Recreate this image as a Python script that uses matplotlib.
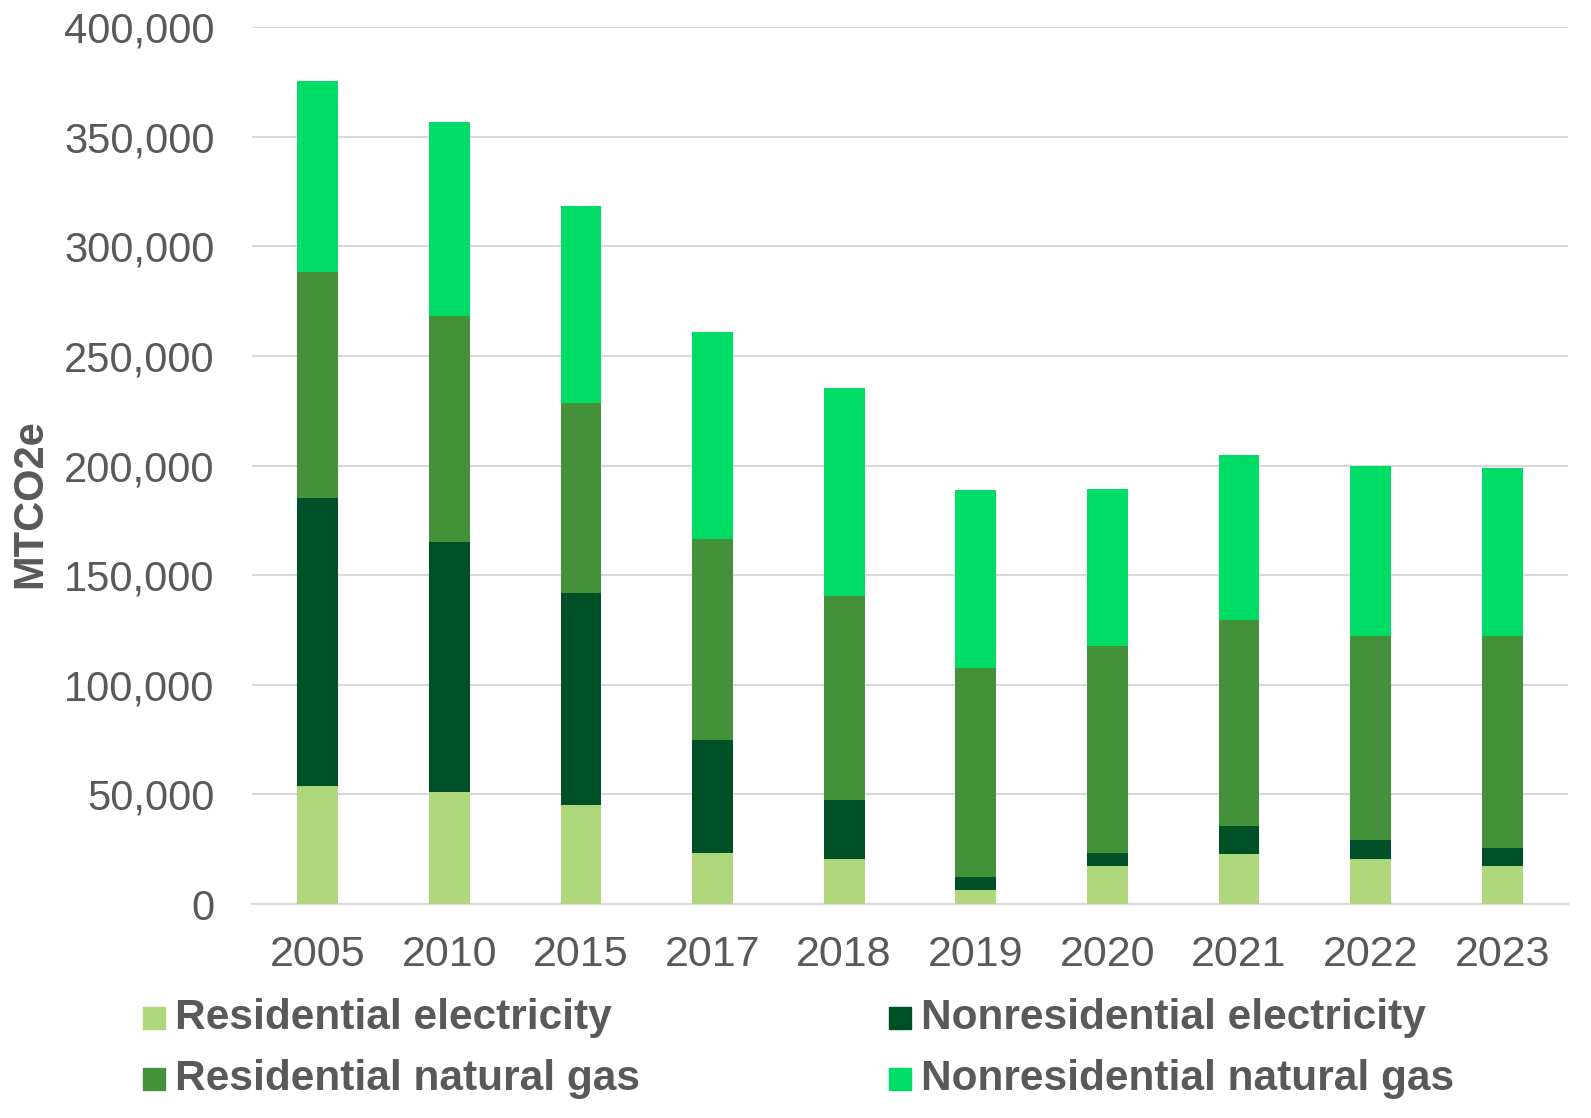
import matplotlib
matplotlib.use("Agg")
import matplotlib.pyplot as plt
import numpy as np
from matplotlib.patches import Rectangle
from matplotlib.ticker import FuncFormatter

years = ["2005", "2010", "2015", "2017", "2018", "2019", "2020", "2021", "2022", "2023"]
res_elec = [54000, 51000, 45000, 23300, 20500, 6400, 17300, 22800, 20500, 17300]
nonres_elec = [131000, 114000, 96700, 51500, 26900, 5900, 6000, 12800, 8700, 8200]
res_gas = [103500, 103100, 86700, 91700, 93100, 95300, 94400, 93900, 93000, 96700]
nonres_gas = [86700, 88500, 89900, 94400, 94800, 81200, 71600, 75300, 77600, 76700]

series = [
    ("Residential electricity", res_elec, "#aed67a"),
    ("Nonresidential electricity", nonres_elec, "#005027"),
    ("Residential natural gas", res_gas, "#43923a"),
    ("Nonresidential natural gas", nonres_gas, "#00dd66"),
]

plt.rcParams["font.family"] = ["Liberation Sans", "DejaVu Sans"]
TXT = "#595959"

fig = plt.figure(figsize=(15.91, 11.18), dpi=100)
ax = fig.add_axes([0.1584, 0.1914, 0.8271, 0.7844])

x = np.arange(len(years))
bottom = np.zeros(len(years))
for name, vals, color in series:
    ax.bar(x, vals, width=0.31, bottom=bottom, color=color, zorder=3)
    bottom += np.array(vals)

ax.set_xlim(-0.5, len(years) - 0.5)
ax.set_ylim(0, 400000)
ax.set_yticks(np.arange(0, 400001, 50000))
ax.yaxis.set_major_formatter(FuncFormatter(lambda v, _: f"{int(v):,}"))
ax.set_xticks(x)
ax.set_xticklabels(years)
ax.tick_params(axis="both", length=0, labelsize=30, labelcolor=TXT)
ax.tick_params(axis="x", labelsize=31, pad=22)
ax.tick_params(axis="y", pad=27)
ax.grid(axis="y", color="#d9d9d9", lw=1.5, zorder=0)
for s in ["top", "right", "left"]:
    ax.spines[s].set_visible(False)
ax.spines["bottom"].set_color("#d9d9d9")
ax.spines["bottom"].set_linewidth(1.5)
ax.set_ylabel("MTCO2e", fontsize=30, fontweight="bold", color=TXT)
ax.yaxis.set_label_coords(-0.153, 0.456)

# legend, laid out by hand in two rows of two
legend_pos = [(143, 1018), (889, 1018), (143, 1079), (889, 1079)]
W, H = 1591, 1118
for (name, _, color), (px, py) in zip(series, legend_pos):
    fig.patches.append(Rectangle((px / W, (H - py - 11) / H), 22 / W, 22 / H,
                                 transform=fig.transFigure, color=color))
    fig.text((px + 32) / W, (H - py) / H, name, fontsize=30.5, fontweight="bold",
             color=TXT, va="center", ha="left")

fig.savefig("out.png", dpi=100)
